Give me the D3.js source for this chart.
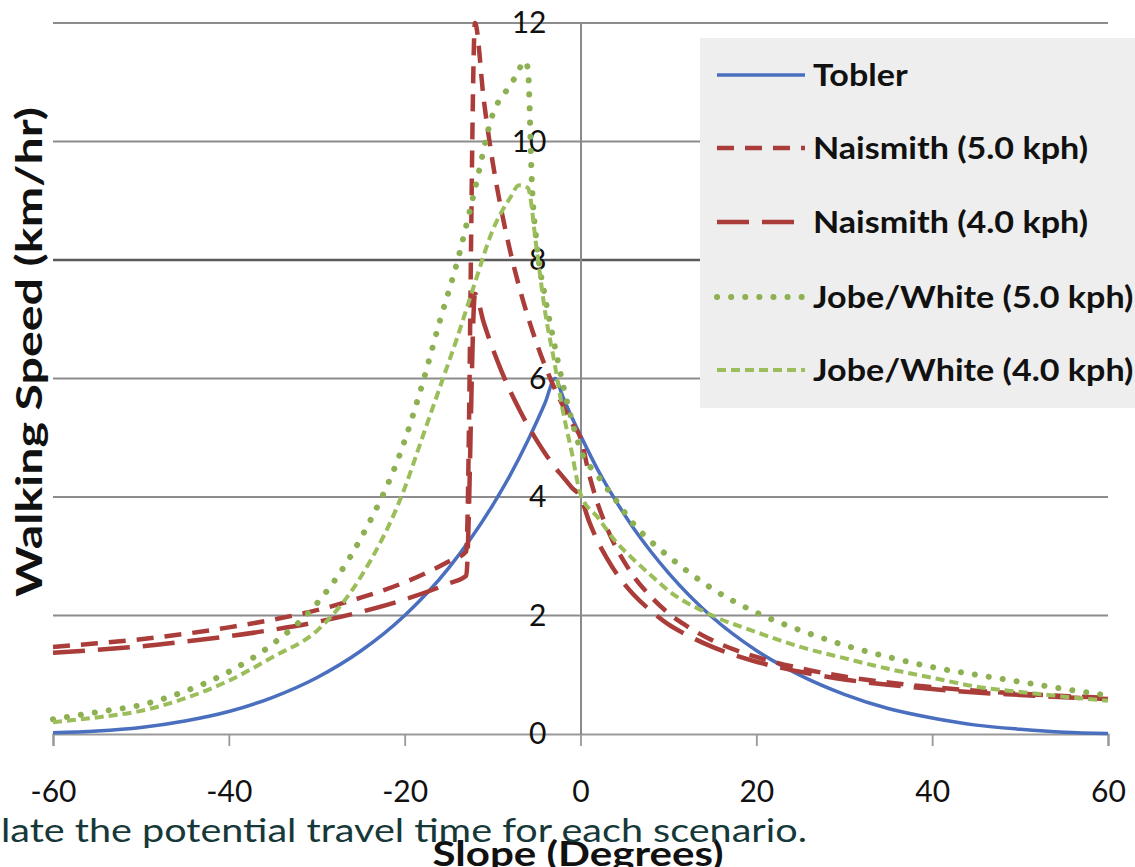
<!DOCTYPE html>
<html>
<head>
<meta charset="utf-8">
<script src="https://cdn.jsdelivr.net/npm/d3@7"></script>
<style>
  body { margin: 0; background: #fff; }
  svg { display: block; font-family: Lato, "Open Sans", sans-serif; }
</style>
</head>
<body>
<script>
  // walking speed vs slope
  var width = 1135, height = 867;

  var xTicks = [-60, -40, -20, 0, 20, 40, 60];
  var xTickLabels = ['-60', '-40', '-20', '0', '20', '40', '60'];
  var yTicks = [0, 2, 4, 6, 8, 10, 12];

  var seriesNames = ['Tobler', 'Naismith (5.0 kph)', 'Naismith (4.0 kph)',
                     'Jobe/White (5.0 kph)', 'Jobe/White (4.0 kph)'];

  var toblerX = [-60,-55,-50,-45,-40,-35,-30,-25,-20,-15,-10,-8,-6,-4,-2.9,-2,-1,0,2,4,6,8,10,15,20,25,30,35,40,45,50,55,60];
  var toblerY = [0.02,0.05,0.11,0.22,0.38,0.62,0.95,1.40,2.00,2.80,3.86,4.37,4.95,5.60,6.00,5.69,5.35,5.04,4.45,3.94,3.48,3.08,2.72,1.97,1.41,0.99,0.67,0.43,0.27,0.15,0.08,0.03,0.01];

  var naismithX = [-60,-55,-50,-45,-40,-35,-30,-25,-20,-15,-13,-12,-11,-10,-9,-8,-7,-6,-5,-4,-3,-2,-1,0,1,2,3,4,5,6,8,10,12,15,20,25,30,35,40,45,50,55,60];
  var naismith5Y = [1.47,1.53,1.60,1.69,1.80,1.93,2.09,2.30,2.56,2.91,3.08,12.0,10.70,9.66,8.84,8.15,7.56,7.05,6.60,6.20,5.85,5.54,5.25,5.00,4.37,3.87,3.48,3.16,2.90,2.67,2.32,2.04,1.83,1.58,1.30,1.11,0.97,0.87,0.79,0.73,0.68,0.64,0.61];
  var naismith4Y = [1.37,1.42,1.48,1.56,1.65,1.76,1.89,2.06,2.27,2.54,2.67,7.43,6.94,6.51,6.13,5.79,5.49,5.21,4.96,4.73,4.52,4.34,4.16,4.00,3.58,3.24,2.97,2.73,2.53,2.36,2.08,1.85,1.68,1.47,1.22,1.05,0.92,0.83,0.76,0.70,0.66,0.62,0.59];

  var jobe5X = [-60,-55,-50,-45,-40,-35,-30,-25,-20,-18,-16,-14,-12,-10,-8,-7,-6.5,-6,-5.5,-5,-4,-3,-2,-1,0,2,4,6,8,10,15,20,25,30,35,40,45,50,55,60];
  var jobe5Y = [0.25,0.37,0.49,0.72,1.05,1.52,2.20,3.30,4.95,5.90,6.97,7.98,9.20,10.45,10.95,11.20,11.36,11.25,9.20,8.30,7.35,6.60,5.90,5.30,4.80,4.35,3.95,3.55,3.25,3.00,2.45,2.05,1.75,1.50,1.30,1.13,1.00,0.88,0.76,0.65];

  var jobe4X = [-60,-55,-50,-45,-40,-35,-30,-25,-20,-18,-16,-14,-12,-10,-8,-7,-6,-5,-4,-3,-2,-1,0,2,4,6,8,10,15,20,25,30,35,40,45,50,55,60];
  var jobe4Y = [0.20,0.28,0.39,0.60,0.90,1.30,1.74,2.65,4.15,5.00,5.85,6.70,7.62,8.50,9.05,9.26,9.22,8.20,7.10,6.30,5.45,4.76,4.05,3.65,3.25,2.95,2.68,2.42,2.00,1.72,1.47,1.28,1.10,0.95,0.80,0.71,0.63,0.56];

  var series = [
    { xs: toblerX, ys: toblerY },
    { xs: naismithX, ys: naismith5Y },
    { xs: naismithX, ys: naismith4Y },
    { xs: jobe5X, ys: jobe5Y },
    { xs: jobe4X, ys: jobe4Y }
  ];

  var styles = [
    { color: '#4a6fbf', w: 3.5, dash: null, cap: 'butt' },
    { color: '#aa3d3a', w: 4.5, dash: '17 11', cap: 'butt' },
    { color: '#aa3d3a', w: 4.5, dash: '32 13', cap: 'butt' },
    { color: '#8db052', w: 6, dash: '0.1 14', cap: 'round' },
    { color: '#9bbd5a', w: 4, dash: '9 5', cap: 'butt' }
  ];

  var x = d3.scaleLinear().domain([-60, 60]).range([53, 1108]);
  var y = d3.scaleLinear().domain([0, 12]).range([734, 23]);

  var svg = d3.select('body').append('svg')
    .attr('width', width)
    .attr('height', height);

  // horizontal gridlines
  svg.append('g').selectAll('line')
    .data(yTicks.filter(function (d) { return d > 0; }))
    .enter().append('line')
    .attr('x1', x(-60)).attr('x2', x(60))
    .attr('y1', function (d) { return y(d); })
    .attr('y2', function (d) { return y(d); })
    .attr('stroke', function (d) { return d === 8 ? '#5a5a5a' : '#8c8c8c'; })
    .attr('stroke-width', function (d) { return d === 8 ? 2.5 : 1.8; });

  // x axis along the bottom
  var xAxis = svg.append('g')
    .attr('transform', 'translate(0,' + y(0) + ')')
    .call(d3.axisBottom(x).tickValues(xTicks)
      .tickFormat(function (d, i) { return xTickLabels[i]; })
      .tickSize(12).tickPadding(35));
  xAxis.select('.domain').attr('stroke', '#999').attr('stroke-width', 2.2);
  xAxis.selectAll('.tick line').attr('stroke', '#999').attr('stroke-width', 1.8);
  xAxis.selectAll('text').attr('font-size', 30).attr('fill', '#111').attr('font-family', 'Lato');

  // y axis sits at slope 0
  var yAxis = svg.append('g')
    .attr('transform', 'translate(' + x(0) + ',0)')
    .call(d3.axisLeft(y).tickValues(yTicks).tickSize(0).tickPadding(34));
  yAxis.select('.domain').attr('stroke', '#8a8a8a').attr('stroke-width', 2);
  yAxis.selectAll('text').attr('font-size', 30).attr('fill', '#111').attr('font-family', 'Lato');

  // series lines
  series.forEach(function (s, i) {
    var pts = s.xs.map(function (v, j) { return [v, s.ys[j]]; });
    var line = d3.line()
      .x(function (d) { return x(d[0]); })
      .y(function (d) { return y(d[1]); })
      .curve(d3.curveMonotoneX);
    svg.append('path')
      .attr('d', line(pts))
      .attr('fill', 'none')
      .attr('stroke', styles[i].color)
      .attr('stroke-width', styles[i].w)
      .attr('stroke-dasharray', styles[i].dash)
      .attr('stroke-linecap', styles[i].cap);
  });

  // legend
  var legend = svg.append('g');
  legend.append('rect')
    .attr('x', 700).attr('y', 38)
    .attr('width', 440).attr('height', 370)
    .attr('fill', '#eeeeee');

  var rowY = [75, 148, 222, 297, 370];
  seriesNames.forEach(function (name, i) {
    legend.append('line')
      .attr('x1', 717).attr('x2', 805)
      .attr('y1', rowY[i]).attr('y2', rowY[i])
      .attr('stroke', styles[i].color)
      .attr('stroke-width', styles[i].w)
      .attr('stroke-dasharray', styles[i].dash)
      .attr('stroke-linecap', styles[i].cap);
    legend.append('text')
      .attr('class', 'legtext')
      .attr('x', 813).attr('y', rowY[i] + 11)
      .attr('font-size', 31)
      .attr('font-weight', 'bold')
      .attr('fill', '#111')
      .text(name);
  });
  // squeeze the bold labels to the narrow look of the original
  var ref = legend.selectAll('.legtext').nodes()[1].getComputedTextLength();
  var k = 275 / ref;
  legend.selectAll('.legtext').each(function () {
    var n = this.getComputedTextLength();
    d3.select(this).attr('textLength', n * k).attr('lengthAdjust', 'spacingAndGlyphs');
  });

  // axis titles
  svg.append('text')
    .attr('transform', 'translate(42,352) rotate(-90)')
    .attr('text-anchor', 'middle')
    .attr('font-size', 36)
    .attr('font-weight', 'bold')
    .attr('fill', '#111')
    .attr('textLength', 490)
    .attr('lengthAdjust', 'spacingAndGlyphs')
    .text('Walking Speed (km/hr)');

  svg.append('text')
    .attr('x', 578).attr('y', 866)
    .attr('text-anchor', 'middle')
    .attr('font-size', 34)
    .attr('font-weight', 'bold')
    .attr('fill', '#111')
    .attr('textLength', 291)
    .attr('lengthAdjust', 'spacingAndGlyphs')
    .text('Slope (Degrees)');

  // caption line from the page the chart was cut out of
  svg.append('text')
    .attr('x', 1).attr('y', 842)
    .attr('font-size', 33)
    .attr('fill', '#173838')
    .attr('textLength', 806)
    .attr('lengthAdjust', 'spacingAndGlyphs')
    .text('late the potential travel time for each scenario.');
</script>
</body>
</html>
